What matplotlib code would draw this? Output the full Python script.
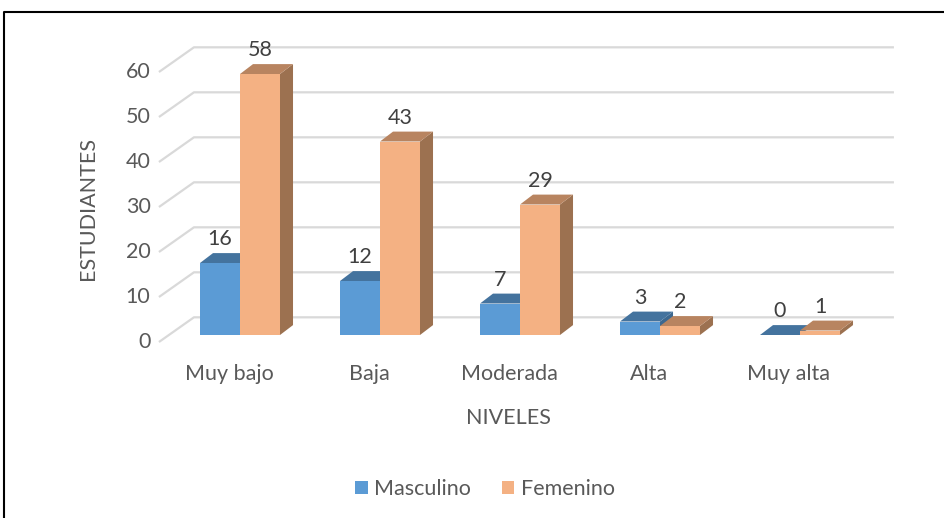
import matplotlib
matplotlib.use('Agg')
import matplotlib.pyplot as plt
from matplotlib.patches import Polygon, Patch
from matplotlib.lines import Line2D

plt.rcParams['font.family'] = ['Lato', 'DejaVu Sans']

# datos del grafico
niveles = ['Muy bajo', 'Baja', 'Moderada', 'Alta', 'Muy alta']
masculino = [16, 12, 7, 3, 0]
femenino = [58, 43, 29, 2, 1]
series = ['Masculino', 'Femenino']
y_ticks = [0, 10, 20, 30, 40, 50, 60]

# colores (cara frontal, cara superior, cara lateral)
blue = ('#5B9BD5', '#44739E', '#3C6890')
orange = ('#F4B183', '#B88460', '#9C7150')
grid_c = '#D9D9D9'
txt_c = '#595959'
lab_c = '#404040'
fs = 15.5

# geometria pseudo 3D (unidades de datos)
bw = 0.2857          # ancho de cada barra
bdx, bdy = 0.093, 2.2      # profundidad de la barra
wdx, wdy = 0.171, 3.93     # pared del fondo respecto al plano de las barras
fdx, fdy = -0.079, -1.56   # borde frontal del piso

fig = plt.figure(figsize=(9.44, 5.18), dpi=100)
ax = fig.add_axes([0, 0, 1, 1])
ax.set_xlim(-240 / 140, (944 - 240) / 140)
ax.set_ylim((335 - 518) / 4.5, 335 / 4.5)
ax.axis('off')

# borde del grafico
fig.add_artist(Line2D([4 / 944, 4 / 944, 1], [0, 1 - 12 / 518, 1 - 12 / 518],
                      transform=fig.transFigure, color='black', lw=1.5))

# lineas de cuadricula (pared lateral + pared del fondo)
x0, x1 = -0.5, len(niveles) - 0.5
for v in y_ticks:
    ax.plot([x0 + fdx, x0 + wdx, x1 + wdx], [v + fdy, v + wdy, v + wdy],
            color=grid_c, lw=1.6, zorder=1, solid_capstyle='butt')
    ax.text(x0 + fdx - 0.06, v + fdy, str(v), ha='right', va='center',
            fontsize=fs, color=txt_c)


def bar3d(xl, v, cols):
    xr = xl + bw
    front = Polygon([(xl, 0), (xr, 0), (xr, v), (xl, v)], closed=True,
                    facecolor=cols[0], edgecolor='none', zorder=3)
    top = Polygon([(xl, v), (xr, v), (xr + bdx, v + bdy), (xl + bdx, v + bdy)],
                  closed=True, facecolor=cols[1], edgecolor='none', zorder=3)
    side = Polygon([(xr, 0), (xr + bdx, bdy), (xr + bdx, v + bdy), (xr, v)],
                   closed=True, facecolor=cols[2], edgecolor='none', zorder=3)
    for p in (side, front, top):
        ax.add_patch(p)
    ax.text(xl + bw / 2, v + 5.3, str(v), ha='center', va='center',
            fontsize=fs, color=lab_c, zorder=5)


for i, nivel in enumerate(niveles):
    bar3d(i - bw, masculino[i], blue)
    bar3d(i, femenino[i], orange)
    ax.text(i + fdx, -8.6, nivel, ha='center', va='center',
            fontsize=fs, color=txt_c)

ax.text(1.914, -18.5, 'NIVELES', ha='center', va='center', fontsize=fs, color=txt_c)
ax.text(-1.085, 28, 'ESTUDIANTES', ha='center', va='center', rotation=90,
        fontsize=fs, color=txt_c)

handles = [Patch(facecolor=blue[0], label=series[0]),
           Patch(facecolor=orange[0], label=series[1])]
leg = fig.legend(handles=handles, loc='center', bbox_to_anchor=(485 / 944, 1 - 489 / 518),
                 ncol=2, frameon=False, fontsize=fs, handlelength=0.6,
                 handleheight=0.6, handletextpad=0.3, columnspacing=1.4)
for t in leg.get_texts():
    t.set_color(txt_c)

fig.savefig('out.png', dpi=100)
